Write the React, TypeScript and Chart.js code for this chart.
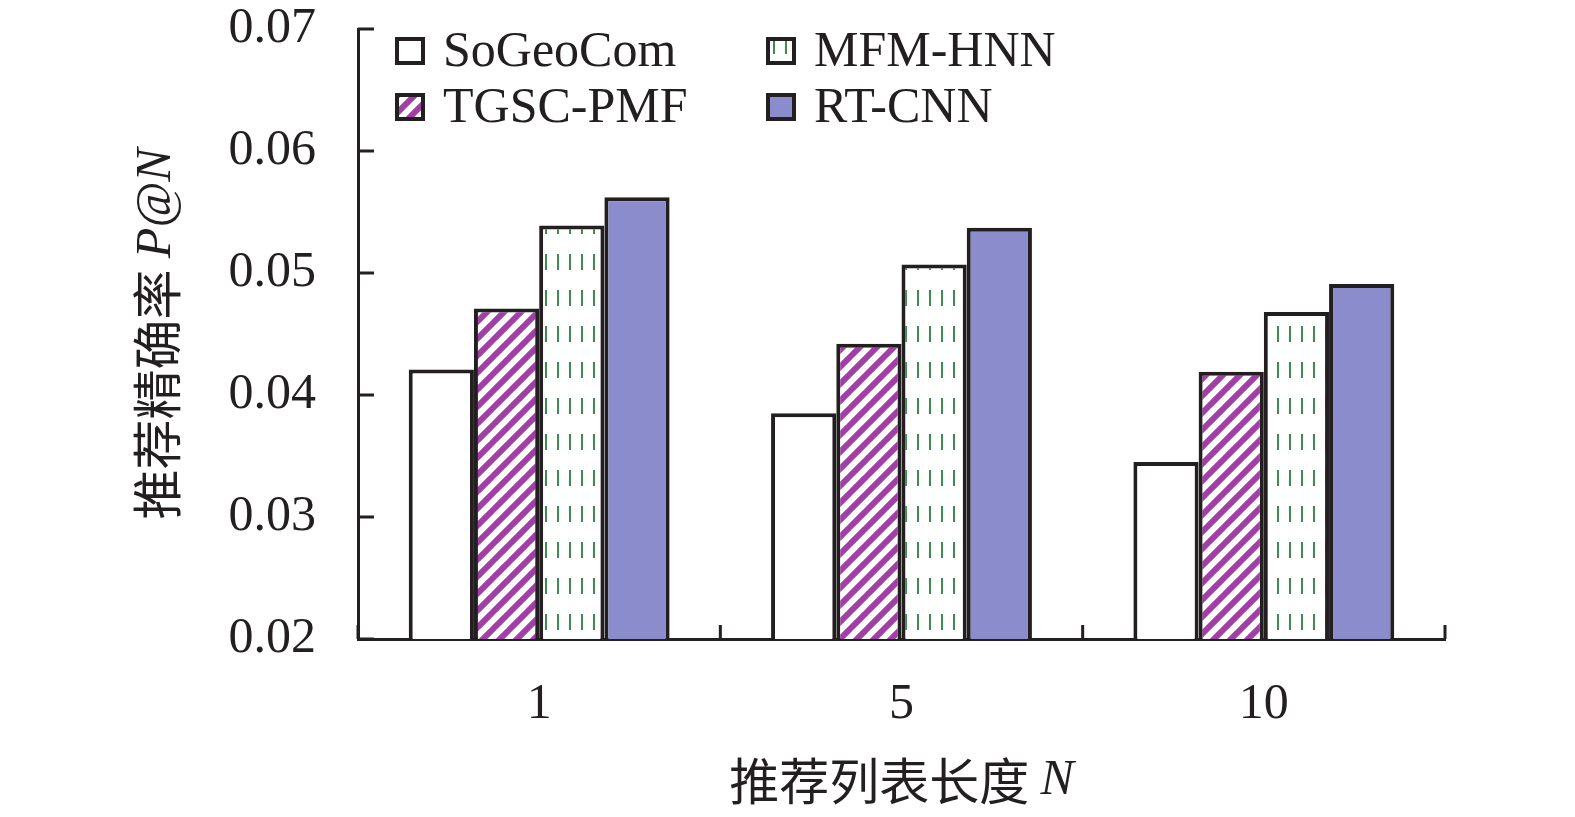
import Chart from 'chart.js/auto'
import { useEffect, useRef } from 'react'

const categories = ['1', '5', '10']
const seriesNames = ['SoGeoCom', 'TGSC-PMF', 'MFM-HNN', 'RT-CNN']
const soGeoCom = [0.0421, 0.0385, 0.0345]
const tgscPmf = [0.0471, 0.0442, 0.0419]
const mfmHnn = [0.0539, 0.0507, 0.0468]
const rtCnn = [0.0562, 0.0537, 0.0491]
const yTicks = [0.02, 0.03, 0.04, 0.05, 0.06, 0.07]

const INK = '#231f20'
const PURPLE = '#a23fa6'
const GREEN = '#3f8a50'
const BLUE = '#8a8ccc'
const SERIF = '"Liberation Serif", "Times New Roman", serif'
const CJK = '"Noto Sans CJK SC", sans-serif'

const makeStripes = () => {
  const c = document.createElement('canvas')
  c.width = 17
  c.height = 17
  const g = c.getContext('2d')!
  g.fillStyle = '#fff'
  g.fillRect(0, 0, 17, 17)
  g.strokeStyle = PURPLE
  g.lineWidth = 6
  for (const o of [-17, 0, 17]) {
    g.beginPath()
    g.moveTo(o - 2, 19)
    g.lineTo(o + 19, -2)
    g.stroke()
  }
  return g.createPattern(c, 'repeat')!
}

const makeDashes = () => {
  const c = document.createElement('canvas')
  c.width = 12
  c.height = 36
  const g = c.getContext('2d')!
  g.fillStyle = '#fff'
  g.fillRect(0, 0, 12, 36)
  g.fillStyle = GREEN
  g.fillRect(5, 2, 2, 16)
  return g.createPattern(c, 'repeat')!
}

// draws text pieces with different fonts, centred on (0,0)
const drawPieces = (ctx: CanvasRenderingContext2D, pieces: [string, string][]) => {
  let total = 0
  const widths = pieces.map(([t, f]) => {
    ctx.font = f
    const w = ctx.measureText(t).width
    total += w
    return w
  })
  let x = -total / 2
  pieces.forEach(([t, f], i) => {
    ctx.font = f
    ctx.fillText(t, x, 0)
    x += widths[i]
  })
}

const decorPlugin = {
  id: 'decor',
  afterDraw(chart: any) {
    const { ctx, chartArea, scales } = chart
    const x = scales.x
    const y = scales.y
    ctx.save()
    ctx.strokeStyle = INK
    ctx.lineWidth = 3
    // inner tick marks
    yTicks.forEach((v) => {
      const py = y.getPixelForValue(v)
      ctx.beginPath()
      ctx.moveTo(chartArea.left, py)
      ctx.lineTo(chartArea.left + 16, py)
      ctx.stroke()
    })
    for (let i = 0; i <= categories.length; i++) {
      const px = x.getPixelForValue(i - 0.5)
      ctx.beginPath()
      ctx.moveTo(px, chartArea.bottom)
      ctx.lineTo(px, chartArea.bottom - 14)
      ctx.stroke()
    }

    // axis titles
    ctx.fillStyle = INK
    ctx.textBaseline = 'middle'
    ctx.textAlign = 'left'
    const cjk = `50px ${CJK}`
    const ital = `italic 50px ${SERIF}`
    ctx.save()
    ctx.translate((chartArea.left + chartArea.right) / 2, 781)
    drawPieces(ctx, [['推荐列表长度 ', cjk], ['N', ital]])
    ctx.restore()
    ctx.save()
    ctx.translate(157, (chartArea.top + chartArea.bottom) / 2)
    ctx.rotate(-Math.PI / 2)
    drawPieces(ctx, [['推荐精确率 ', cjk], ['P@N', ital]])
    ctx.restore()

    // legend, two columns filled top to bottom
    const ds = chart.data.datasets
    const cols = [395, 766]
    const rows = [51, 107]
    ds.forEach((d: any, i: number) => {
      const bx = cols[Math.floor(i / 2)]
      const cy = rows[i % 2]
      ctx.fillStyle = d.backgroundColor
      ctx.fillRect(bx, cy - 14, 30, 28)
      ctx.lineWidth = 4
      ctx.strokeStyle = INK
      ctx.strokeRect(bx + 2, cy - 12, 26, 24)
      ctx.fillStyle = INK
      ctx.font = `50px ${SERIF}`
      ctx.fillText(d.label, bx + 48, cy + 2)
    })
    ctx.restore()
  },
}

const noPad = (s: any) => {
  s.paddingTop = 0
  s.paddingBottom = 0
  s.paddingLeft = 0
  s.paddingRight = 0
}

const App = () => {
  const canvasRef = useRef<HTMLCanvasElement>(null)
  const chartRef = useRef<Chart | null>(null)

  useEffect(() => {
    if (canvasRef.current) {
      const fills = ['#ffffff', makeStripes(), makeDashes(), BLUE]
      const values = [soGeoCom, tgscPmf, mfmHnn, rtCnn]
      chartRef.current = new Chart(canvasRef.current, {
        type: 'bar',
        data: {
          labels: categories,
          datasets: seriesNames.map((name, i) => ({
            label: name,
            data: values[i],
            backgroundColor: fills[i] as any,
            borderColor: INK,
            borderWidth: 4,
            borderSkipped: false,
            categoryPercentage: 0.72,
            barPercentage: 1,
          })),
        },
        options: {
          animation: false,
          responsive: true,
          maintainAspectRatio: false,
          devicePixelRatio: 1,
          layout: { padding: { top: 29, right: 130, left: 0, bottom: 0 } },
          plugins: {
            legend: { display: false },
            tooltip: { enabled: false },
          },
          scales: {
            x: {
              grid: { display: false, drawTicks: false },
              border: { display: true, color: INK, width: 3 },
              ticks: { color: INK, font: { family: SERIF, size: 50 }, padding: 36 },
              afterFit: (s: any) => {
                s.height = 178
                noPad(s)
              },
            },
            y: {
              min: 0.02,
              max: 0.07,
              grid: { display: false, drawTicks: false },
              border: { display: true, color: INK, width: 3 },
              afterBuildTicks: (s: any) => {
                s.ticks = yTicks.map((v) => ({ value: v }))
              },
              ticks: {
                color: INK,
                font: { family: SERIF, size: 50 },
                padding: 42,
                callback: (v: any) => Number(v).toFixed(2),
              },
              afterFit: (s: any) => {
                s.width = 358
                noPad(s)
              },
            },
          },
        },
        plugins: [decorPlugin],
      })
    }
    return () => {
      if (chartRef.current) {
        chartRef.current.destroy()
      }
    }
  }, [])

  return (
    <div style={{ position: 'fixed', left: 0, top: 0, width: 1575, height: 817, background: '#fff' }}>
      <canvas ref={canvasRef}></canvas>
    </div>
  )
}

export default App
